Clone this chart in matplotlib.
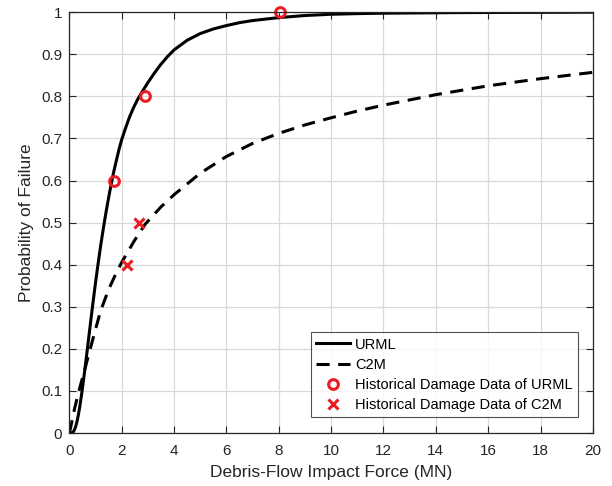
import numpy as np
import matplotlib
matplotlib.use("Agg")
import matplotlib.pyplot as plt

plt.rcParams['font.family'] = ['Liberation Sans', 'DejaVu Sans']

# curve values
urml_x = [0, 0.1, 0.15, 0.2, 0.25, 0.3, 0.35, 0.4, 0.45, 0.5, 0.6, 0.7, 0.8, 0.9, 1.0,
          1.1, 1.2, 1.3, 1.4, 1.5, 1.6, 1.7, 1.8, 1.9, 2.0, 2.15, 2.3, 2.45, 2.6, 2.8,
          3.0, 3.25, 3.5, 3.75, 4, 4.5, 5, 5.5, 6, 6.5, 7, 8, 9, 10, 11, 12, 13, 15, 20]
urml_y = [0, 0.0004, 0.0025, 0.0074, 0.0157, 0.0275, 0.0426, 0.0606, 0.081, 0.103,
          0.151, 0.202, 0.254, 0.305, 0.354, 0.400, 0.444, 0.484, 0.522, 0.557,
          0.590, 0.620, 0.647, 0.673, 0.696, 0.724, 0.750, 0.772, 0.791, 0.812,
          0.832, 0.855, 0.876, 0.894, 0.910, 0.933, 0.949, 0.960, 0.968, 0.975,
          0.980, 0.987, 0.992, 0.995, 0.9965, 0.9975, 0.998, 0.999, 1.0]

c2m_x = [0, 0.05, 0.1, 0.2, 0.3, 0.4, 0.5, 0.6, 0.8, 1.0, 1.2, 1.5, 1.75, 2.0, 2.5,
         2.9, 3.5, 4, 5, 6, 7, 8, 9, 10, 11, 12, 14, 16, 18, 20]
c2m_y = [0, 0.011, 0.026, 0.056, 0.082, 0.106, 0.129, 0.152, 0.199, 0.245, 0.290,
         0.340, 0.374, 0.405, 0.458, 0.496, 0.537, 0.566, 0.617, 0.657, 0.688,
         0.712, 0.732, 0.749, 0.765, 0.779, 0.804, 0.825, 0.842, 0.857]

urml_hist_x = [1.7, 2.9, 8.05]
urml_hist_y = [0.6, 0.8, 1.0]
c2m_hist_x = [2.2, 2.65]
c2m_hist_y = [0.4, 0.5]

fig = plt.figure(figsize=(6.12, 4.86), dpi=100)
ax = fig.add_axes([0.113, 0.109, 0.856, 0.866])

ax.plot(urml_x, urml_y, color='black', linewidth=2.2, label='URML')
ax.plot(c2m_x, c2m_y, color='black', linewidth=2.2, linestyle=(0, (4.3, 2.8)), label='C2M')
ax.plot(urml_hist_x, urml_hist_y, linestyle='none', marker='o', markersize=7,
        markerfacecolor='none', markeredgecolor='#ec1c24', markeredgewidth=2.2,
        label='Historical Damage Data of URML', clip_on=False)
ax.plot(c2m_hist_x, c2m_hist_y, linestyle='none', marker='x', markersize=7,
        color='#ec1c24', markeredgewidth=2.2, label='Historical Damage Data of C2M')

ax.set_xlim(0, 20)
ax.set_ylim(0, 1)
ax.set_xticks(np.arange(0, 21, 2))
ax.set_yticks(np.arange(0, 1.01, 0.1))
ax.set_yticklabels(['0', '0.1', '0.2', '0.3', '0.4', '0.5', '0.6', '0.7', '0.8', '0.9', '1'])

ax.grid(True, color='#d9d9d9', linewidth=0.9)
ax.set_axisbelow(True)
ax.tick_params(direction='in', top=True, right=True, labelsize=11, length=5,
               colors='#262626')
ax.tick_params(axis='x', pad=8)
ax.tick_params(axis='y', pad=5)
for s in ax.spines.values():
    s.set_color('#262626')
    s.set_linewidth(0.9)

ax.set_xlabel('Debris-Flow Impact Force (MN)', fontsize=12.5, color='#262626', labelpad=5)
ax.set_ylabel('Probability of Failure', fontsize=12.5, color='#262626', labelpad=5)

leg = ax.legend(loc='lower right', bbox_to_anchor=(0.971, 0.038), borderaxespad=0,
                fontsize=10.5, frameon=True, fancybox=False, edgecolor='#262626',
                handlelength=2.3, borderpad=0.35, labelspacing=0.42,
                handletextpad=0.35)
leg.get_frame().set_linewidth(0.8)

fig.savefig('out.png', dpi=100)
